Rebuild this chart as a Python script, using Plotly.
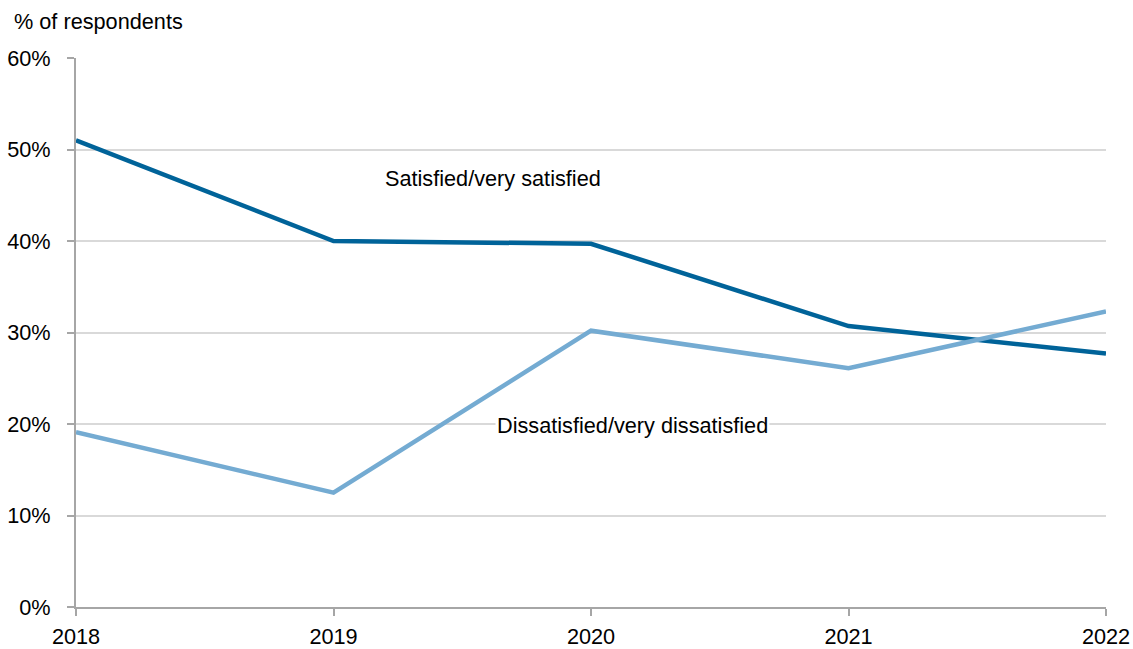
import plotly.graph_objects as go

years = [2018, 2019, 2020, 2021, 2022]
satisfied = [51.0, 40.0, 39.7, 30.7, 27.7]
dissatisfied = [19.1, 12.5, 30.2, 26.1, 32.3]
y_ticks = [0, 10, 20, 30, 40, 50, 60]

FONT = "Liberation Sans, Arial, sans-serif"
AXIS_GREY = "#a6a6a6"
GRID_GREY = "#d9d9d9"
FS = 21.7

fig = go.Figure()
fig.add_trace(go.Scatter(x=years, y=satisfied, mode="lines",
                         line=dict(color="#006399", width=4.5),
                         name="Satisfied/very satisfied", showlegend=False))
fig.add_trace(go.Scatter(x=years, y=dissatisfied, mode="lines",
                         line=dict(color="#74abd2", width=4.5),
                         name="Dissatisfied/very dissatisfied", showlegend=False))

fig.update_layout(
    width=1133, height=649,
    margin=dict(l=76, r=27, t=58, b=42),
    paper_bgcolor="white", plot_bgcolor="white",
    font=dict(family=FONT, size=FS, color="#000000"),
    xaxis=dict(range=[2018, 2022], tickvals=years, ticktext=[str(y) for y in years],
               showgrid=False, showline=True, linecolor=AXIS_GREY, linewidth=2,
               ticks="outside", ticklen=7, tickcolor=AXIS_GREY, tickwidth=2,
               zeroline=False, ticklabelstandoff=2, automargin=False),
    yaxis=dict(range=[0, 60], tickvals=y_ticks, ticktext=[f"{v}%" for v in y_ticks],
               showgrid=True, gridcolor=GRID_GREY, gridwidth=1.5,
               showline=True, linecolor=AXIS_GREY, linewidth=2,
               ticks="outside", ticklen=7, tickcolor=AXIS_GREY, tickwidth=2,
               zeroline=False, ticklabelstandoff=12, automargin=False),
    annotations=[
        dict(text="% of respondents", xref="paper", yref="paper",
             x=(12 - 76) / 1030, y=(607 - 22) / 549, xanchor="left", yanchor="middle",
             showarrow=False, font=dict(size=FS)),
        dict(text="Satisfied/very satisfied", xref="x", yref="y",
             x=2019.62, y=46.8, showarrow=False, font=dict(size=FS)),
        dict(text="Dissatisfied/very dissatisfied", xref="x", yref="y",
             x=2020.16, y=19.8, showarrow=False, bgcolor="white", font=dict(size=FS)),
    ],
)

fig.write_html("out.html", config={"displayModeBar": False},
               post_script="document.body.style.margin='0';document.body.style.overflow='hidden';")
